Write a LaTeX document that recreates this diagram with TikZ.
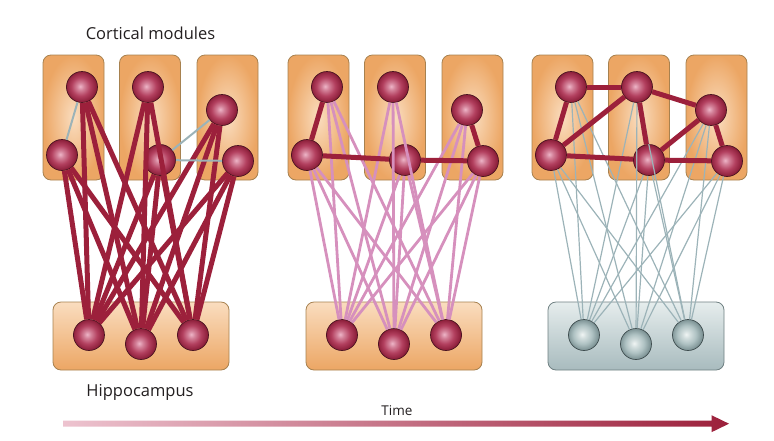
\documentclass[tikz,border=0pt]{standalone}
\usepackage{fontspec}
\setmainfont{Open Sans}
\usetikzlibrary{calc}

\definecolor{boxlight}{HTML}{FADDBF}
\definecolor{boxdark}{HTML}{ECA664}
\definecolor{boxedge}{HTML}{A7814F}
\definecolor{greylight}{HTML}{E6EDED}
\definecolor{greydark}{HTML}{A8BBBE}
\definecolor{greyedge}{HTML}{6F8082}
\definecolor{ballhi}{HTML}{EDB5C7}
\definecolor{ballmid}{HTML}{B3405F}
\definecolor{balldark}{HTML}{8A1D38}
\definecolor{ballline}{HTML}{4A1421}
\definecolor{greyhi}{HTML}{F0F5F4}
\definecolor{greymid}{HTML}{AFC2C3}
\definecolor{greyball}{HTML}{7B9193}
\definecolor{greyline}{HTML}{3F4D4F}
\definecolor{linkred}{HTML}{9C203B}
\definecolor{linkpink}{HTML}{D690BD}
\definecolor{linkgrey}{HTML}{9CB3B8}
\definecolor{timelight}{HTML}{EDC3CF}
\definecolor{textgrey}{HTML}{231F20}

\pgfdeclareradialshading{redball}{\pgfpoint{-3bp}{1bp}}{color(0bp)=(ballhi); color(6bp)=(ballhi!55!ballmid); color(15bp)=(ballmid); color(25bp)=(balldark); color(50bp)=(balldark)}
\pgfdeclareradialshading{greyballs}{\pgfpoint{-3bp}{1bp}}{color(0bp)=(greyhi); color(6bp)=(greyhi!55!greymid); color(15bp)=(greymid); color(25bp)=(greyball); color(50bp)=(greyball)}

\begin{document}
\begin{tikzpicture}[x=1pt, y=-1pt,
	module/.style={draw=boxedge, line width=0.8pt, rounded corners=8pt, inner color=boxlight, outer color=boxdark, minimum width=61pt, minimum height=125pt, inner sep=0pt},
	hippo/.style={draw=boxedge, line width=0.8pt, rounded corners=8pt, top color=boxlight, bottom color=boxdark, minimum width=176pt, minimum height=68pt, inner sep=0pt},
	hippogrey/.style={hippo, draw=greyedge, top color=greylight, bottom color=greydark},
	neuron/.style={circle, minimum size=31pt, inner sep=0pt, draw=ballline, line width=0.7pt, shading=redball},
	neurongrey/.style={neuron, draw=greyline, shading=greyballs},
	strong/.style={draw=linkred, line width=5pt},
	medium/.style={draw=linkpink, line width=2.8pt},
	faint/.style={draw=linkgrey, line width=2pt},
	weak/.style={draw=linkgrey, line width=1.2pt},
	label/.style={anchor=base, text=textgrey, font=\fontsize{16.5}{19}\selectfont}]
	\useasboundingbox (0,0) rectangle (774,440);

	% modules and cells
	\foreach \p/\dx/\hx/\hstyle/\hcell in {a/0/0/hippo/neuron, b/245/253/hippo/neuron, c/489/495/hippogrey/neurongrey}{
	\foreach \m/\x in {1/73.5, 2/150, 3/227.5}
		\node[module] (\p m\m) at (\x+\dx,117.5) {};
	\node[\hstyle] (\p hbox) at (141+\hx,336) {};
	\foreach \n/\x/\y in {1/82/87, 2/62/155, 3/148/87, 4/160/160, 5/222/110, 6/238/161}
		\node[neuron] (\p\n) at (\x+\dx,\y) {};
	\foreach \n/\x/\y in {1/89/335, 2/141/344, 3/193/335}
		\node[\hcell] (\p h\n) at (\x+\hx,\y) {};
	}

	% early: hippocampus binds the modules
	\foreach \c in {1,...,6}{\foreach \h in {1,2,3}{
		\draw[strong] (a\c) -- (ah\h);}}
	\foreach \u/\v in {1/2, 4/5, 4/6}
		\draw[faint] (a\u) -- (a\v);

	% middle
	\foreach \c in {1,...,6}{\foreach \h in {1,2,3}{
		\draw[medium] (b\c) -- (bh\h);}}
	\foreach \u/\v in {1/2, 2/4, 4/6, 5/6}
		\draw[strong] (b\u) -- (b\v);

	% late: cortex on its own
	\foreach \c in {1,...,6}{\foreach \h in {1,2,3}{
		\draw[weak] (c\c) -- (ch\h);}}
	\foreach \u/\v in {1/2, 1/3, 2/3, 2/4, 3/4, 3/5, 4/5, 4/6, 5/6}
		\draw[strong] (c\u) -- (c\v);

	% labels
	\node[label] (cortex) at (150.5,39.3) {Cortical modules};
	\node[label] (hippocampus) at (140,396.5) {Hippocampus};
	\node[label, font=\fontsize{13.5}{16}\selectfont] (time) at (397,415) {Time};

	% time arrow
	\coordinate (tstart) at (63,423.7);
	\coordinate (tend) at (729,423.7);
	\shade[left color=timelight, right color=linkred]
		($(tstart)+(0,-3)$) -- ($(tend)+(-17.5,-3)$) -- ($(tend)+(-17.5,-8.5)$) -- (tend)
		-- ($(tend)+(-17.5,8.5)$) -- ($(tend)+(-17.5,3)$) -- ($(tstart)+(0,3)$) -- cycle;
\end{tikzpicture}
\end{document}
